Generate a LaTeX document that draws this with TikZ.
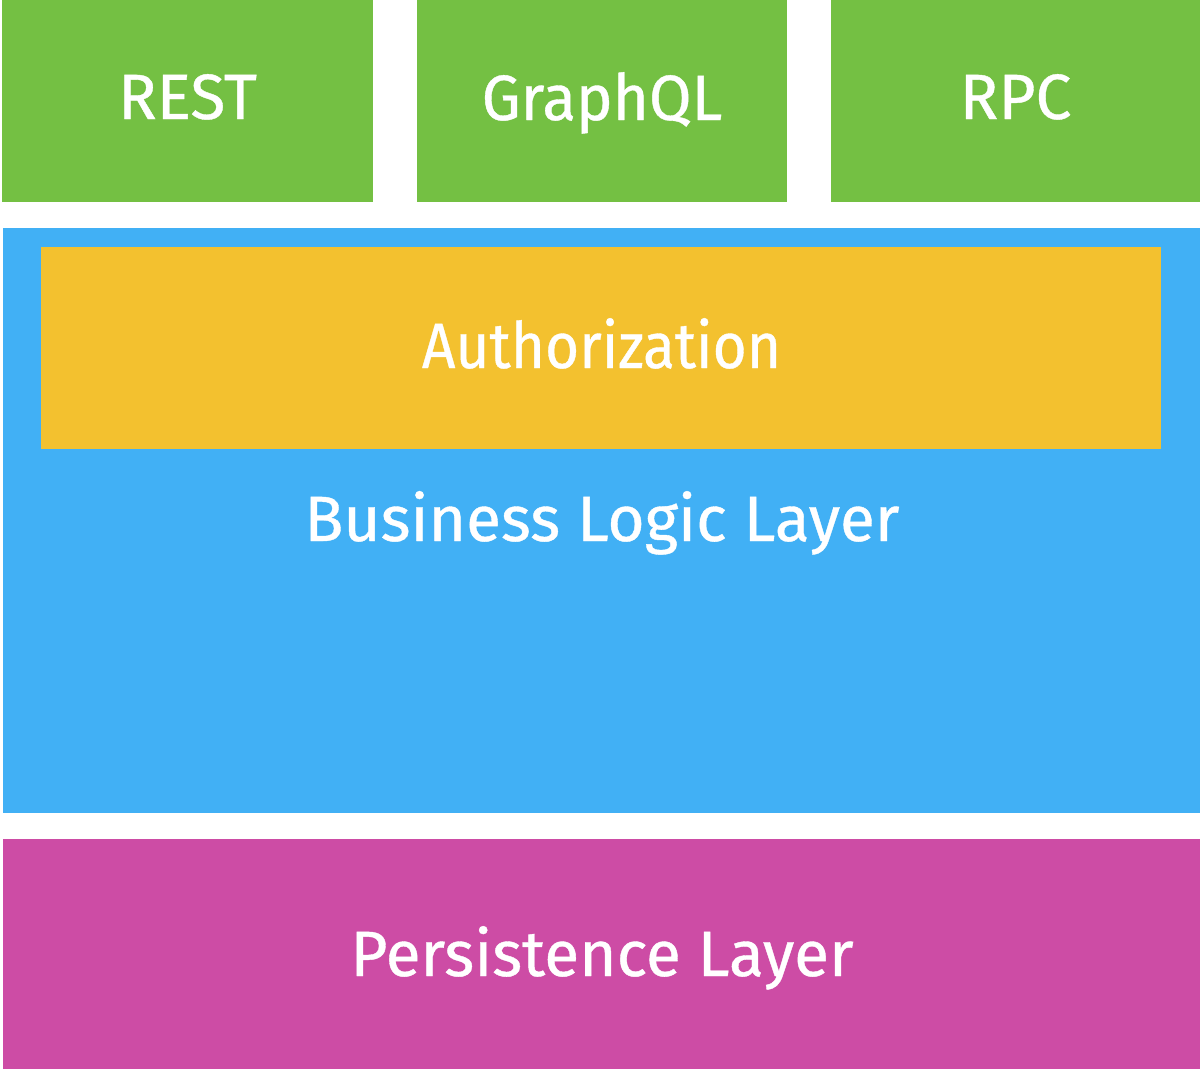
\documentclass[tikz,border=0pt]{standalone}
\usepackage{fontspec}
\setmainfont{Fira Sans}
\newfontfamily\labelfont{Fira Sans}[FakeBold=0.6]
\definecolor{apigreen}{HTML}{74C043}
\definecolor{bizblue}{HTML}{41B0F5}
\definecolor{authyellow}{HTML}{F3C12F}
\definecolor{perspink}{HTML}{CD4CA5}
\begin{document}
\begin{tikzpicture}[x=0.5pt,y=-0.5pt,
  box/.style={inner sep=0pt,outer sep=0pt,draw=none},
  lbl/.style={inner sep=0pt,anchor=base,text=white,
    font=\labelfont\fontsize{32}{38}\selectfont}]
\useasboundingbox[fill=white] (0,0) rectangle (1200,1072);
\node[box,fill=apigreen,minimum width=371*0.5pt,minimum height=202*0.5pt] (rest) at (187.5,101) {};
\node[box,fill=apigreen,minimum width=370*0.5pt,minimum height=202*0.5pt] (graphql) at (602,101) {};
\node[box,fill=apigreen,minimum width=369*0.5pt,minimum height=202*0.5pt] (rpc) at (1015.5,101) {};
\node[box,fill=bizblue,minimum width=1197*0.5pt,minimum height=585*0.5pt] (biz) at (601.5,520.5) {};
\node[box,fill=authyellow,minimum width=1120*0.5pt,minimum height=202*0.5pt] (auth) at (601,348) {};
\node[box,fill=perspink,minimum width=1197*0.5pt,minimum height=230*0.5pt] (pers) at (601.5,954) {};
\node[lbl] (restlabel) at (187.5,119) {REST};
\node[lbl] (graphqllabel) at (602,120) {\scalebox{0.965}[1]{GraphQL}};
\node[lbl] (rpclabel) at (1015.5,119) {RPC};
\node[lbl] (authlabel) at (601.5,368) {\scalebox{0.915}[1]{Authorization}};
\node[lbl] (bizlabel) at (602,541) {Business Logic Layer};
\node[lbl] (perslabel) at (602,976) {Persistence Layer};
\end{tikzpicture}
\end{document}
